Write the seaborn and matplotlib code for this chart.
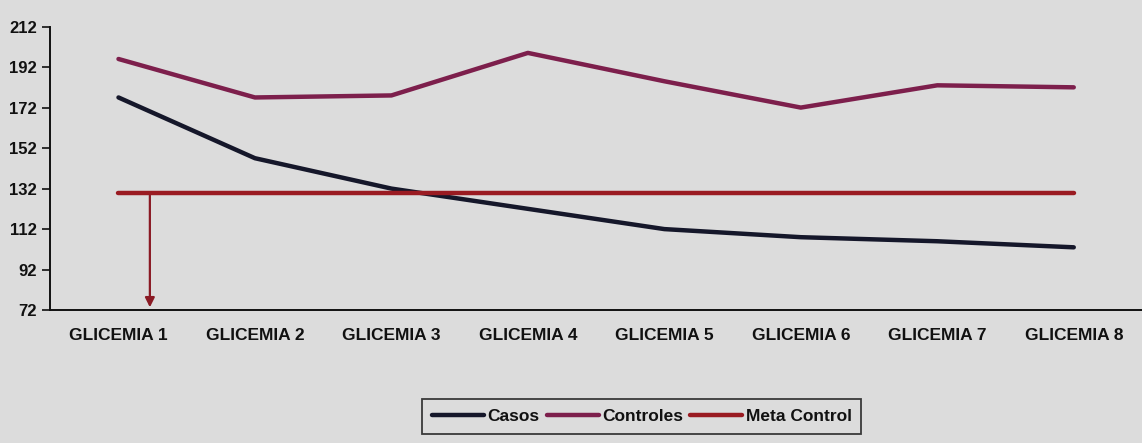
import matplotlib
matplotlib.use("Agg")
import matplotlib.pyplot as plt
import seaborn as sns
import pandas as pd
from matplotlib.ticker import FixedLocator

# Glucose readings per measurement round
categorias = ["GLICEMIA 1", "GLICEMIA 2", "GLICEMIA 3", "GLICEMIA 4",
              "GLICEMIA 5", "GLICEMIA 6", "GLICEMIA 7", "GLICEMIA 8"]
casos = [177, 147, 132, 122, 112, 108, 106, 103]
controles = [196, 177, 178, 199, 185, 172, 183, 182]
meta_control = [130, 130, 130, 130, 130, 130, 130, 130]
y_ticks = [72, 92, 112, 132, 152, 172, 192, 212]

series = {"Casos": casos, "Controles": controles, "Meta Control": meta_control}
colores = {"Casos": "#15172a", "Controles": "#7d1f4c", "Meta Control": "#9a1b22"}

rows = []
for nombre, valores in series.items():
    for i, v in enumerate(valores):
        rows.append({"pos": i, "valor": v, "serie": nombre})
df = pd.DataFrame(rows)

sns.set_theme(style="white")
plt.rcParams["font.family"] = ["Liberation Sans", "DejaVu Sans"]
plt.rcParams["text.color"] = "#111111"
plt.rcParams["xtick.color"] = "#111111"
plt.rcParams["ytick.color"] = "#111111"
bg = "#dcdcdc"

fig = plt.figure(figsize=(11.42, 4.43), dpi=100, facecolor=bg)
ax = fig.add_axes([0.044, 0.30, 0.956, 0.64], facecolor=bg)

sns.lineplot(data=df, x="pos", y="valor", hue="serie", palette=colores,
             linewidth=3.2, ax=ax, legend=True)

# Target arrow from the goal line down to the axis
ax.annotate("", xy=(0.23, 72), xytext=(0.23, meta_control[0]),
            arrowprops=dict(arrowstyle="-|>", color="#8a1a24", lw=1.6,
                            mutation_scale=14))

ax.set_xlim(-0.5, len(categorias) - 0.5)
ax.set_ylim(y_ticks[0], y_ticks[-1])
ax.set_xticks(range(len(categorias)))
ax.set_xticklabels(categorias, fontsize=12.5, fontweight="bold")
ax.xaxis.set_minor_locator(FixedLocator([i + 0.5 for i in range(len(categorias) - 1)]))
ax.tick_params(axis="x", which="major", length=0, pad=13)
ax.tick_params(axis="x", which="minor", length=5, width=1.2, direction="inout", color="#111111")
ax.set_yticks(y_ticks)
ax.set_yticklabels([str(t) for t in y_ticks], fontsize=12, fontweight="bold")
ax.tick_params(axis="y", length=6, width=1.2, direction="out", color="#111111", left=True)
ax.set_xlabel("")
ax.set_ylabel("")

for s in ["top", "right"]:
    ax.spines[s].set_visible(False)
for s in ["left", "bottom"]:
    ax.spines[s].set_color("#111111")
    ax.spines[s].set_linewidth(1.4)

handles, labels = ax.get_legend_handles_labels()
ax.legend(handles, labels, loc="center", bbox_to_anchor=(0.562, 0.06),
          bbox_transform=fig.transFigure, ncol=3, frameon=True, fancybox=False,
          edgecolor="#111111", facecolor=bg, handlelength=3.0,
          handletextpad=0.2, columnspacing=0.4, borderpad=0.55,
          prop={"weight": "bold", "size": 12.5})
ax.get_legend().get_frame().set_linewidth(1.3)

fig.savefig("out.png", dpi=100, facecolor=bg)
